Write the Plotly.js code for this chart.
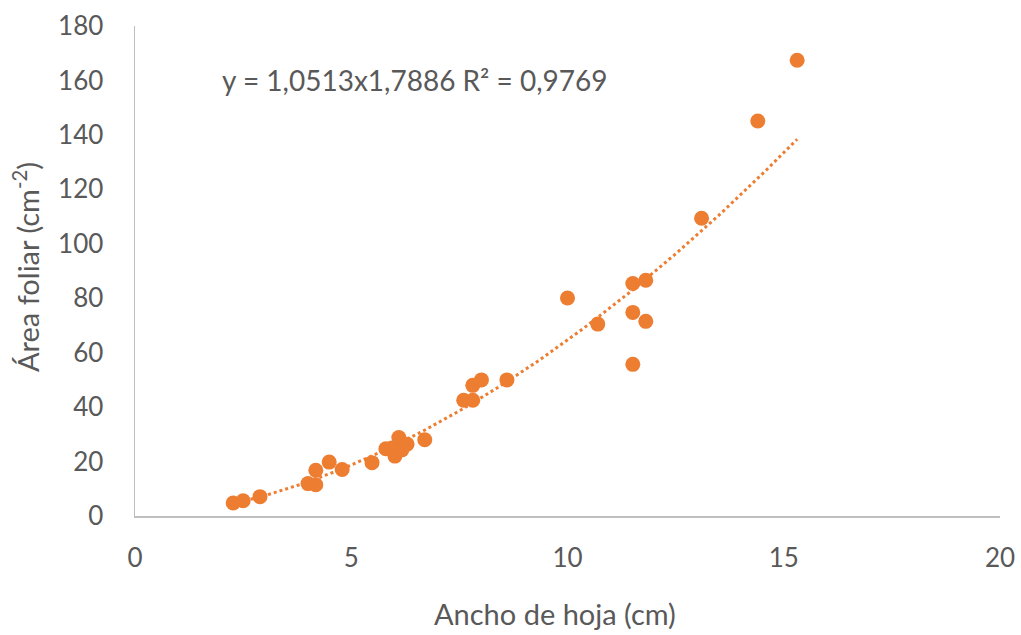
<!DOCTYPE html>
<html><head><meta charset="utf-8">
<script src="https://cdn.plot.ly/plotly-3.0.1.min.js"></script>
<style>body{margin:0;background:#fff}#chart{width:1021px;height:635px}</style>
</head><body><div id="chart"></div>
<script>
const anchoHoja = [2.27,2.50,2.89,4.00,4.18,4.18,4.49,4.79,5.48,5.80,5.94,6.01,6.10,6.17,6.29,6.70,7.60,7.81,7.81,8.01,8.60,10.00,10.70,11.51,11.51,11.51,11.81,11.81,13.10,14.40,15.31];
const areaFoliar = [4.8,5.6,7.1,11.9,11.5,16.8,19.8,17.1,19.6,24.7,25.0,22.0,28.8,24.3,26.4,28.0,42.5,42.5,48.0,50.0,50.0,80.1,70.5,55.7,74.8,85.4,86.6,71.5,109.4,145.1,167.4];
const fitA = 1.0513, fitB = 1.7886;
const equationText = "y = 1,0513x1,7886 R² = 0,9769";
const xTitle = "Ancho de hoja (cm)";
const yTitle = "Área foliar (cm<sup>-2</sup>)";
const xTicks = [0,5,10,15,20];
const yTicks = [0,20,40,60,80,100,120,140,160,180];

const xmin = Math.min(...anchoHoja), xmax = Math.max(...anchoHoja);
const tx = [], ty = [];
for (let i = 0; i <= 100; i++) { const x = xmin + (xmax - xmin) * i / 100; tx.push(x); ty.push(fitA * Math.pow(x, fitB)); }

const font = "Lato, 'Open Sans', sans-serif";
const grey = "#595959";
const data = [
  {x: tx, y: ty, mode: "lines", line: {color: "#ED7D31", width: 3, dash: "dot"}, hoverinfo: "skip", showlegend: false},
  {x: anchoHoja, y: areaFoliar, mode: "markers", marker: {color: "#ED7D31", size: 15}, showlegend: false}
];
const pw = 1021 - 135 - 21, ph = 635 - 26 - 119;
const px = v => (v - 135) / pw, py = v => (635 - 119 - v) / ph;
const layout = {
  width: 1021, height: 635,
  margin: {l: 135, r: 21, t: 26, b: 119},
  paper_bgcolor: "#fff", plot_bgcolor: "#fff",
  font: {family: font, color: grey, size: 26},
  xaxis: {range: [0, 20], tickvals: xTicks, showgrid: false, zeroline: false, showline: true, linecolor: "#BFBFBF", linewidth: 1.5,
          ticks: "outside", ticklen: 18, tickcolor: "rgba(0,0,0,0)", tickfont: {size: 26, color: grey}},
  yaxis: {range: [0, 180], tickvals: yTicks, showgrid: false, zeroline: false, showline: true, linecolor: "#BFBFBF", linewidth: 1.5,
          ticks: "outside", ticklen: 25, tickcolor: "rgba(0,0,0,0)", tickfont: {size: 26, color: grey}},
  annotations: [
    {x: px(220), y: py(80), xref: "paper", yref: "paper", text: equationText, showarrow: false,
     xanchor: "left", yanchor: "middle", font: {size: 28, color: grey}},
    {x: px(555), y: py(613), xref: "paper", yref: "paper", text: xTitle, showarrow: false, borderpad: 0,
     xanchor: "center", yanchor: "middle", font: {size: 29, color: grey}},
    {x: px(26), y: py(267), xref: "paper", yref: "paper", text: yTitle, showarrow: false, textangle: -90,
     xanchor: "center", yanchor: "middle", font: {size: 29, color: grey}}
  ]
};
Plotly.newPlot("chart", data, layout, {displayModeBar: false, staticPlot: true});
</script></body></html>
